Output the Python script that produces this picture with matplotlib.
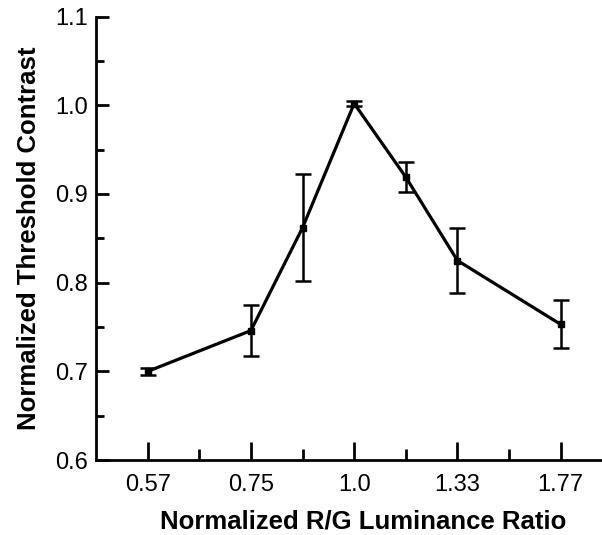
import matplotlib
matplotlib.use("Agg")
import matplotlib.pyplot as plt
from matplotlib.ticker import MultipleLocator, FixedLocator

# Data
x_index = [0, 2, 3, 4, 5, 6, 8]          # positions on the equally spaced (log-ratio) axis
threshold = [0.700, 0.746, 0.862, 1.002, 0.919, 0.825, 0.753]
err = [0.004, 0.029, 0.060, 0.003, 0.017, 0.037, 0.027]
major_pos = [0, 2, 4, 6, 8]
major_labels = ["0.57", "0.75", "1.0", "1.33", "1.77"]
minor_pos = [1, 3, 5, 7]

plt.rcParams['font.family'] = ['Liberation Sans', 'DejaVu Sans']

fig = plt.figure(figsize=(6.02, 5.35), dpi=100)
ax = fig.add_axes([0.1595, 0.140, 0.8405, 0.829])

ax.errorbar(x_index, threshold, yerr=err, color='black', linewidth=2.3,
            marker='s', markersize=4.5, elinewidth=1.8, capsize=5.5, capthick=1.8)

ax.set_xlim(-1.0, 8.8)
ax.set_ylim(0.6, 1.1)

ax.xaxis.set_major_locator(FixedLocator(major_pos))
ax.xaxis.set_minor_locator(FixedLocator(minor_pos))
ax.set_xticklabels(major_labels)
ax.yaxis.set_major_locator(MultipleLocator(0.1))
ax.yaxis.set_minor_locator(MultipleLocator(0.05))
ax.yaxis.set_major_formatter(matplotlib.ticker.FormatStrFormatter('%.1f'))

for s in ['top', 'right']:
    ax.spines[s].set_visible(False)
for s in ['left', 'bottom']:
    ax.spines[s].set_linewidth(2.0)

ax.tick_params(axis='x', which='major', direction='in', length=13, width=2, labelsize=17, pad=10)
ax.tick_params(axis='x', which='minor', direction='in', length=8, width=2)
ax.tick_params(axis='y', which='major', direction='in', length=9, width=2, labelsize=17, pad=6)
ax.tick_params(axis='y', which='minor', direction='in', length=6, width=2)

ax.set_xlabel("Normalized R/G Luminance Ratio", fontsize=18.5, fontweight='bold')
ax.set_ylabel("Normalized Threshold Contrast", fontsize=18.5, fontweight='bold', labelpad=10)
ax.xaxis.set_label_coords(0.528, -0.138)
ax.xaxis.label.set_va('center')

fig.savefig("out.png", dpi=100)
